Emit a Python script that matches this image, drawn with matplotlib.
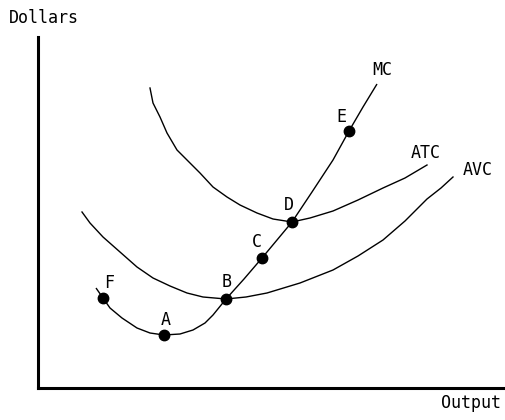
import matplotlib
matplotlib.use("Agg")
import matplotlib.pyplot as plt

# Curves (output, dollars)
mc_x = [58, 65, 72, 84, 99, 112, 126, 142, 155, 167, 175, 188, 206, 224, 239, 254, 274, 295, 311, 325, 339]
mc_y = [100, 90, 80, 70, 60, 55, 53, 54, 58, 65, 73, 89, 109, 130, 148, 166, 196, 228, 257, 281, 304]

atc_x = [112, 115, 122, 129, 139, 149, 162, 175, 189, 202, 219, 235, 254, 272, 295, 320, 345, 367, 389]
atc_y = [300, 285, 271, 255, 238, 228, 215, 201, 191, 183, 175, 169, 166, 170, 177, 188, 200, 210, 223]

avc_x = [44, 52, 65, 82, 99, 115, 132, 149, 165, 188, 208, 229, 262, 295, 320, 345, 367, 389, 403, 415]
avc_y = [176, 165, 151, 136, 121, 110, 102, 95, 91, 89, 91, 95, 105, 118, 132, 148, 167, 189, 200, 211]

pt_names = ["F", "A", "B", "C", "D", "E"]
pt_x = [65, 126, 188, 224, 254, 311]
pt_y = [90, 53, 89, 130, 166, 257]

curve_names = ["MC", "ATC", "AVC"]

W, H = 505, 420
fig = plt.figure(figsize=(W / 100, H / 100), dpi=100)
ax = fig.add_axes([38 / W, (H - 388) / H, (503 - 38) / W, (388 - 37) / H])
ax.set_xlim(0, 465)
ax.set_ylim(0, 351)
for s in ["top", "right"]:
    ax.spines[s].set_visible(False)
for s in ["left", "bottom"]:
    ax.spines[s].set_linewidth(2.2)
    ax.spines[s].set_color("black")
ax.set_xticks([])
ax.set_yticks([])

fnt = dict(family="DejaVu Sans Mono", fontsize=12, color="black")

ax.plot(mc_x, mc_y, color="black", lw=1.0, solid_capstyle="butt")
ax.plot(atc_x, atc_y, color="black", lw=1.0)
ax.plot(avc_x, avc_y, color="black", lw=1.0)
ax.plot(pt_x, pt_y, "o", color="black", markersize=7.5, linestyle="none")

pt_label_pos = [(71, 105), (128, 68), (189, 106), (219, 146), (251, 183), (303, 271)]
for name, (lx, ly) in zip(pt_names, pt_label_pos):
    ax.text(lx, ly, name, ha="center", va="center", clip_on=False, **fnt)

curve_label_pos = [(344, 318), (388, 235), (440, 218)]
for name, (lx, ly) in zip(curve_names, curve_label_pos):
    ax.text(lx, ly, name, ha="center", va="center", clip_on=False, **fnt)

fig.text(9 / W, 1 - 18 / H, "Dollars", ha="left", va="center", **fnt)
fig.text(441 / W, 1 - 403 / H, "Output", ha="left", va="center", **fnt)

fig.savefig("out.png", dpi=100, facecolor="white")
